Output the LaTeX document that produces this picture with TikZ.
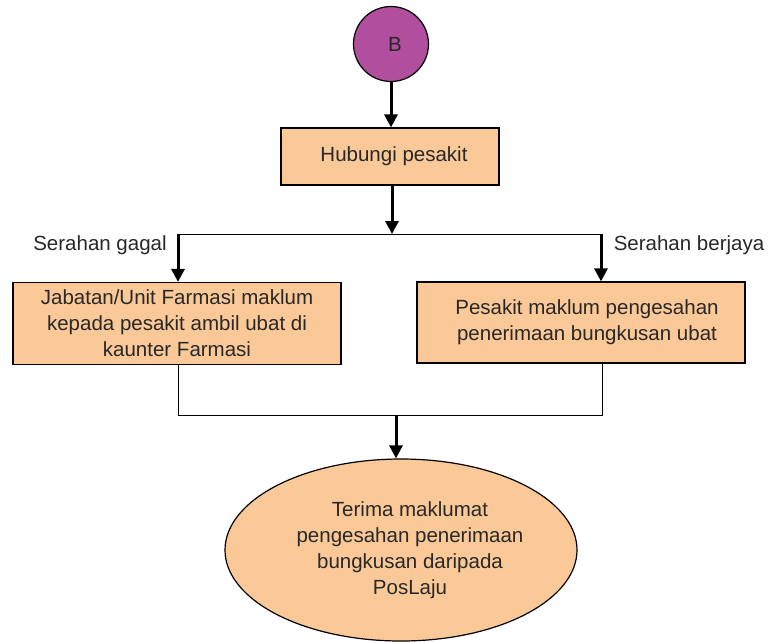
\documentclass[tikz,border=0pt]{standalone}
\usepackage{fontspec}
\setmainfont{Liberation Sans}
\usetikzlibrary{arrows.meta,shapes.geometric}
\definecolor{boxfill}{RGB}{250,201,151}
\definecolor{purp}{RGB}{177,78,158}
\definecolor{txt}{RGB}{40,40,40}
\tikzset{
  every node/.style={font=\fontsize{20.5}{26}\selectfont, text=txt},
  procbox/.style={draw=black, line width=1.2pt, fill=boxfill, align=center, inner sep=0pt},
  thin line/.style={draw=black, line width=1pt},
  flowarrow/.style={draw=black, line width=3pt, -{Triangle[width=13pt,length=13pt]}},
}
\begin{document}
\begin{tikzpicture}[x=1pt,y=-1pt]
\useasboundingbox (0,0) rectangle (771,641);
\node[circle, draw=black, line width=1.2pt, fill=purp, minimum size=75pt, inner sep=0pt] (b) at (391,44) {\hspace*{8pt}B};
\node[procbox, minimum width=218pt, minimum height=57pt] (hub) at (390,156.5) {\hspace*{8pt}Hubungi pesakit};
\node[procbox, minimum width=328pt, minimum height=82pt] (left) at (177,323.5) {Jabatan/Unit Farmasi maklum\\kepada pesakit ambil ubat di\\kaunter Farmasi};
\node[procbox, minimum width=328pt, minimum height=81pt] (right) at (581,322.5) {\hspace*{12pt}Pesakit maklum pengesahan\\\hspace*{12pt}penerimaan bungkusan ubat};
\node[ellipse, draw=black, line width=1.2pt, fill=boxfill, minimum width=352pt, minimum height=182pt, inner sep=0pt, align=center] (ell) at (401,550) {\hspace*{18pt}Terima maklumat\\\hspace*{18pt}pengesahan penerimaan\\\hspace*{18pt}bungkusan daripada\\\hspace*{18pt}PosLaju};
\node (lg) at (100,245) {Serahan gagal};
\node (lb) at (689,245) {Serahan berjaya};
\coordinate (jc) at (392,234);
\coordinate (jl) at (178,234);
\coordinate (jr) at (601,234);
\coordinate (bl) at (178,415);
\coordinate (br) at (602,415);
\coordinate (bc) at (396,415);
\draw[flowarrow] (b.south) -- (b.south |- hub.north);
\draw[flowarrow] (jc |- hub.south) -- (jc);
\draw[thin line] (jl) -- (jr);
\draw[flowarrow] (jl) -- (jl |- left.north);
\draw[flowarrow] (jr) -- (jr |- right.north);
\draw[thin line] (bl |- left.south) -- (bl) -- (br) -- (br |- right.south);
\draw[flowarrow] (bc) -- (bc |- ell.north);
\end{tikzpicture}
\end{document}
